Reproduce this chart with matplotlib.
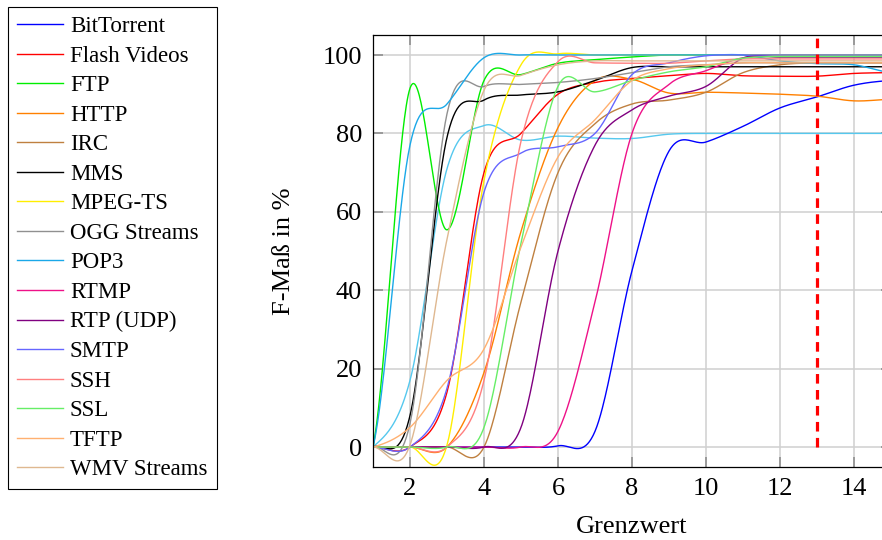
import numpy as np
import matplotlib
matplotlib.use("Agg")
import matplotlib.pyplot as plt
from matplotlib.lines import Line2D

plt.rcParams['font.family'] = ['Liberation Serif', 'DejaVu Serif']

# Grenzwert (x) and F-Maß in % per protocol
grenzwert = [1, 2, 3, 4, 5, 6, 7, 8, 9, 10, 11, 12, 13, 14, 15]

bittorrent = [0, 0, 0, 0, 0, 0.3, 4, 45, 75.5, 77.8, 81.8, 86.5, 89.3, 92.3, 93.5]
flash      = [0, 0, 14, 70, 80, 90, 93, 94, 94.7, 95.3, 94.7, 94.6, 94.6, 95.3, 95.5]
ftp        = [0, 91.5, 55.4, 93.5, 95, 97.9, 98.8, 99.5, 100, 100, 100, 100, 100, 100, 100]
http       = [0, 0, 0, 19, 55, 81.5, 93.5, 93.8, 90.3, 90.5, 90.3, 90, 89.5, 88.3, 88.7]
irc        = [0, 0, 0, 0, 37, 70, 82.5, 87.5, 88.5, 90.5, 95.5, 97.5, 98, 98, 98]
mms        = [0, 8, 79, 88.5, 89.8, 90.6, 93.5, 96.8, 97, 97, 97, 97, 97, 97, 97]
mpegts     = [0, 0, 0.5, 68, 97.5, 100.3, 100, 100, 100, 100, 100, 100, 100, 100, 100]
ogg        = [0, 6, 85, 92, 92.5, 93, 94, 95.5, 97, 97.5, 98, 98, 98, 98, 98]
pop3       = [0, 77, 87.5, 99.3, 100, 100, 100, 100, 100, 100, 100, 98.5, 97.8, 97.5, 95.5]
rtmp       = [0, 0, 0, 0, 0, 4, 37, 80, 92.5, 96, 99.3, 99.5, 99.5, 99.5, 99.5]
rtp_udp    = [0, 0, 0, 0, 5, 50, 77, 86, 89.5, 92, 99.2, 99.5, 99.5, 99.5, 99.5]
smtp       = [0, 0, 15, 65, 75, 76.6, 80, 95, 98, 99.8, 100, 100, 100, 100, 100]
ssh        = [0, 0, 0, 17, 78, 98.3, 98, 97.9, 97.9, 98.5, 99, 99, 99, 99, 99]
ssl        = [0, 0, 0, 5, 52, 92, 90.6, 93.5, 95.7, 97, 99.2, 99.6, 99.6, 99.6, 99.6]
tftp       = [0, 5, 17, 25, 51, 74, 83.5, 93.5, 96.5, 97.5, 98, 98, 98, 98, 98]
wmv        = [0, 0.5, 53, 91, 94.8, 97.5, 98.5, 98.5, 98.5, 98.5, 98.5, 98.5, 98.5, 98.5, 98.5]
ohne_name  = [0, 17, 71, 82, 78.3, 79.3, 78.8, 78.7, 79.8, 80, 80, 80, 80, 80, 80]

labels = ['BitTorrent', 'Flash Videos', 'FTP', 'HTTP', 'IRC', 'MMS', 'MPEG-TS',
          'OGG Streams', 'POP3', 'RTMP', 'RTP (UDP)', 'SMTP', 'SSH', 'SSL',
          'TFTP', 'WMV Streams']
series = [bittorrent, flash, ftp, http, irc, mms, mpegts, ogg, pop3, rtmp,
          rtp_udp, smtp, ssh, ssl, tftp, wmv]
colors = ['#0000ff', '#ff0000', '#00ee00', '#ff8000', '#bf8040', '#000000',
          '#ffee00', '#909090', '#1aa8e8', '#ee1188', '#800080', '#6666ff',
          '#ff7f7f', '#66ee66', '#ffb070', '#dfb890']

grenze = 13


def smooth(x, y, n=40):
    # cubic hermite (catmull-rom) like pgfplots "smooth"
    x = np.asarray(x, float)
    y = np.asarray(y, float)
    m = np.zeros_like(y)
    m[1:-1] = (y[2:] - y[:-2]) / (x[2:] - x[:-2])
    m[0] = (y[1] - y[0]) / (x[1] - x[0]) / 2
    m[-1] = (y[-1] - y[-2]) / (x[-1] - x[-2]) / 2
    xs, ys = [], []
    t = np.linspace(0, 1, n, endpoint=False)
    for i in range(len(x) - 1):
        h = x[i + 1] - x[i]
        h00 = 2 * t**3 - 3 * t**2 + 1
        h10 = t**3 - 2 * t**2 + t
        h01 = -2 * t**3 + 3 * t**2
        h11 = t**3 - t**2
        xs.append(x[i] + t * h)
        ys.append(h00 * y[i] + h10 * h * m[i] + h01 * y[i + 1] + h11 * h * m[i + 1])
    xs.append([x[-1]])
    ys.append([y[-1]])
    return np.concatenate(xs), np.concatenate(ys)


fig = plt.figure(figsize=(8.82, 5.4), dpi=100)
ax = fig.add_axes([373 / 882, 73.4 / 540, 518 / 882, 431.2 / 540])

sx, sy = smooth(grenzwert, ohne_name)
ax.plot(sx, sy, color='#55c8ee', lw=1.0)
for vals, col, lab in zip(series, colors, labels):
    sx, sy = smooth(grenzwert, vals)
    ax.plot(sx, sy, color=col, lw=1.0, label=lab)

ax.plot([grenze, grenze], [0, 105], color='#ff0000', lw=2.3, ls=(0, (3, 2)))

ax.set_xlim(1, 15)
ax.set_ylim(-5, 105)
ax.set_xticks([2, 4, 6, 8, 10, 12, 14])
ax.set_yticks([0, 20, 40, 60, 80, 100])
ax.grid(True, color='#d0d0d0', lw=1.1)
ax.set_axisbelow(True)
ax.tick_params(direction='in', length=7, width=1.1, color='#888888',
               top=True, right=True, labelsize=19, pad=8)
for sp in ax.spines.values():
    sp.set_linewidth(0.9)

ax.set_xlabel('Grenzwert', fontsize=19, labelpad=12)
ax.set_ylabel('F-Maß in %', fontsize=19, labelpad=20)

handles = [Line2D([], [], color=c, lw=1.0) for c in colors]
leg = fig.legend(handles, labels, loc='upper left',
                 bbox_to_anchor=(8 / 882, 1 - 7 / 540),
                 bbox_transform=fig.transFigure, fontsize=16.5,
                 frameon=True, fancybox=False, edgecolor='black',
                 framealpha=1, handlelength=2.0, handletextpad=0.3,
                 labelspacing=0.37, borderpad=0.4, borderaxespad=0)
leg.get_frame().set_linewidth(0.8)

fig.savefig('out.png', dpi=100)
